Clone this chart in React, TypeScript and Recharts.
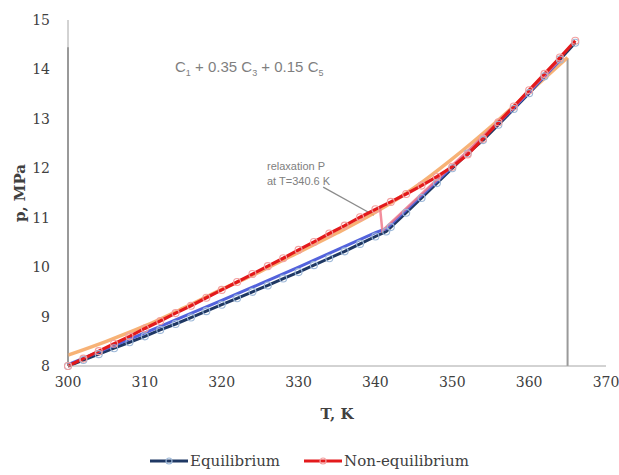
import { LineChart, Line, XAxis, YAxis, ReferenceLine } from "recharts"

// temperature (K) and pressure (MPa)
const eqT = [300, 302, 304, 306, 308, 310, 312, 314, 316, 318, 320, 322, 324, 326, 328, 330, 332, 334, 336, 338, 340, 341.4, 342, 344, 346, 348, 350, 352, 354, 356, 358, 360, 362, 364, 366]
const eqP = [8.0, 8.12, 8.24, 8.36, 8.48, 8.6, 8.73, 8.85, 8.98, 9.11, 9.24, 9.37, 9.5, 9.63, 9.77, 9.9, 10.04, 10.18, 10.32, 10.47, 10.62, 10.72, 10.81, 11.1, 11.4, 11.7, 12.0, 12.3, 12.57, 12.88, 13.2, 13.52, 13.86, 14.2, 14.54]

const neqT = [300, 302, 304, 306, 308, 310, 312, 314, 316, 318, 320, 322, 324, 326, 328, 330, 332, 334, 336, 338, 340, 342, 344, 346, 348, 350, 352, 354, 356, 358, 360, 362, 364, 366]
const neqP = [8.0, 8.15, 8.3, 8.45, 8.6, 8.76, 8.91, 9.07, 9.22, 9.38, 9.54, 9.7, 9.86, 10.02, 10.18, 10.35, 10.51, 10.68, 10.84, 11.01, 11.17, 11.32, 11.48, 11.65, 11.83, 12.03, 12.28, 12.6, 12.93, 13.25, 13.58, 13.91, 14.24, 14.58]

const blueT = [300, 305, 310, 315, 320, 325, 330, 335, 340, 341.4, 346, 352, 358, 364]
const blueP = [8.03, 8.35, 8.67, 9.0, 9.33, 9.66, 10.0, 10.35, 10.7, 10.78, 11.45, 12.32, 13.22, 14.18]

const relaxT = [340.6, 340.9, 346, 352, 358, 364]
const relaxP = [11.2, 10.74, 11.48, 12.35, 13.24, 14.2]

const fitT = [300, 305, 310, 315, 320, 325, 330, 335, 340, 345, 350, 355, 360, 365]
const fitP = [8.22, 8.5, 8.81, 9.17, 9.55, 9.91, 10.3, 10.69, 11.11, 11.6, 12.19, 12.84, 13.54, 14.24]

const xTicks = [300, 310, 320, 330, 340, 350, 360, 370]
const yTicks = [8, 9, 10, 11, 12, 13, 14, 15]

const zip = (ts: number[], ps: number[]) => ts.map((T, i) => ({ T, p: ps[i] }))

const equilibrium = zip(eqT, eqP)
const nonEquilibrium = zip(neqT, neqP)
const blue = zip(blueT, blueP)
const relax = zip(relaxT, relaxP)
const fit = zip(fitT, fitP)

const serif = "'DejaVu Serif', serif"
const sans = "'Liberation Sans', Arial, sans-serif"

function LegendItem({ color, dot, label }: { color: string; dot: string; label: string }) {
  return (
    <div style={{ display: "flex", alignItems: "center", marginRight: 24 }}>
      <svg width={38} height={10}>
        <line x1={0} y1={5} x2={38} y2={5} stroke={color} strokeWidth={3} />
        <circle cx={19} cy={5} r={3} fill="none" stroke={dot} strokeWidth={1.2} />
      </svg>
      <span style={{ marginLeft: 2 }}>{label}</span>
    </div>
  )
}

export default function App() {
  return (
    <div style={{ position: "absolute", left: 0, top: 0, width: 619, height: 475, background: "#fff" }}>
      <LineChart width={619} height={475} margin={{ top: 20, right: 13, bottom: 49, left: 0 }}>
        <XAxis
          dataKey="T"
          type="number"
          domain={[300, 370]}
          ticks={xTicks}
          tickLine={false}
          axisLine={{ stroke: "#a6a6a6" }}
          tickMargin={5}
          height={60}
          tick={{ fill: "#404040", fontSize: 14, fontFamily: serif }}
          label={{ value: "T, K", position: "insideBottom", offset: 7, fill: "#404040", fontSize: 15, fontWeight: "bold", fontFamily: serif }}
        />
        <YAxis
          type="number"
          domain={[8, 15]}
          ticks={yTicks}
          tickLine={false}
          axisLine={{ stroke: "#a6a6a6" }}
          tickMargin={12}
          width={68}
          tick={{ fill: "#404040", fontSize: 14, fontFamily: serif }}
          label={{ value: "p, MPa", angle: -90, position: "insideLeft", offset: 20, fill: "#404040", fontSize: 15, fontWeight: "bold", fontFamily: serif, style: { textAnchor: "middle" } }}
        />
        <ReferenceLine segment={[{ x: 300, y: 8 }, { x: 300, y: 14.45 }]} stroke="#8c8c8c" strokeWidth={2} />
        <ReferenceLine segment={[{ x: 365, y: 8 }, { x: 365, y: 14.22 }]} stroke="#9a9a9a" strokeWidth={2} />
        <ReferenceLine segment={[{ x: 333.2, y: 11.62 }, { x: 339.8, y: 11.05 }]} stroke="#8c8c8c" strokeWidth={1.3} />
        <Line data={fit} dataKey="p" type="monotone" stroke="#f6a55e" strokeOpacity={0.85} strokeWidth={3.5} dot={false} isAnimationActive={false} legendType="none" />
        <Line data={equilibrium} dataKey="p" type="linear" stroke="#1f3864" strokeWidth={3} dot={{ r: 3.5, stroke: "#9db8d8", strokeWidth: 1.1, fill: "none" }} isAnimationActive={false} name="Equilibrium" />
        <Line data={blue} dataKey="p" type="linear" stroke="#5363dc" strokeWidth={3} dot={false} isAnimationActive={false} legendType="none" />
        <Line data={relax} dataKey="p" type="linear" stroke="#f07a8c" strokeOpacity={0.85} strokeWidth={2.5} dot={false} isAnimationActive={false} legendType="none" />
        <Line data={nonEquilibrium} dataKey="p" type="linear" stroke="#e31a1c" strokeWidth={3.2} dot={{ r: 3.5, stroke: "#f2a0a0", strokeWidth: 1.1, fill: "none" }} isAnimationActive={false} name="Non-equilibrium" />
      </LineChart>

      <div style={{ position: "absolute", left: 175, top: 58, fontFamily: sans, fontSize: 15, color: "#7f7f7f", whiteSpace: "nowrap" }}>
        C<sub style={{ fontSize: 9 }}>1</sub> + 0.35 C<sub style={{ fontSize: 9 }}>3</sub> + 0.15 C<sub style={{ fontSize: 9 }}>5</sub>
      </div>

      <div style={{ position: "absolute", left: 267, top: 159, fontFamily: sans, fontSize: 11, lineHeight: "15px", color: "#808080", whiteSpace: "nowrap" }}>
        <div>relaxation P</div>
        <div>at T=340.6 K</div>
      </div>

      <div style={{ position: "absolute", left: 150, top: 452, display: "flex", fontFamily: serif, fontSize: 15, color: "#404040", whiteSpace: "nowrap" }}>
        <LegendItem color="#1f3864" dot="#9db8d8" label="Equilibrium" />
        <LegendItem color="#e31a1c" dot="#f2a0a0" label="Non-equilibrium" />
      </div>
    </div>
  )
}
